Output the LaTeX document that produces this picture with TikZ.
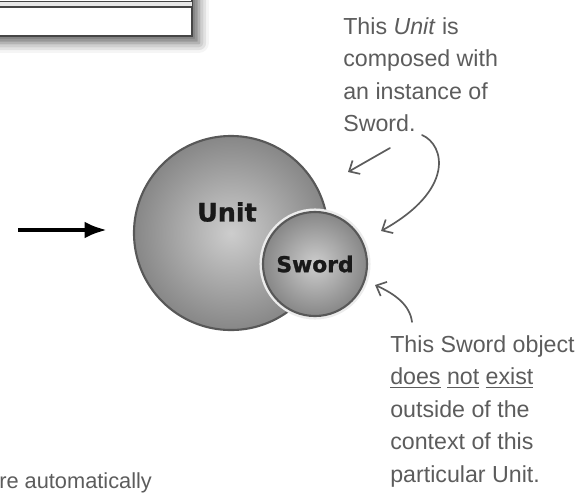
\documentclass[tikz,border=0pt]{standalone}
\usepackage{fontspec}
\usetikzlibrary{arrows.meta,shadows.blur}

\newfontfamily\handfont{Liberation Sans}
\newfontfamily\ballfont{DejaVu Sans}[BoldFeatures={FakeBold=1.2}]

\definecolor{pengray}{RGB}{92,92,92}
\definecolor{ballin}{RGB}{205,205,205}
\definecolor{ballout}{RGB}{135,135,135}
\definecolor{balledge}{RGB}{88,88,88}
\definecolor{boxedge}{RGB}{70,70,70}

\tikzset{
note/.style={anchor=north west, inner sep=0pt, align=left, text=pengray,
  font=\handfont\fontsize{16.5}{23.2}\selectfont},
note arrow/.style={draw=pengray, line width=1.2pt, line cap=round,
  -{Straight Barb[length=6pt,width=11pt]}},
ball/.style={circle, draw=balledge, line width=1.5pt, inner sep=0pt,
  inner color=ballin, outer color=ballout},
ball label/.style={inner sep=0pt, text=black!90,
  font=\ballfont\bfseries\fontsize{18}{18}\selectfont}
}

\begin{document}
\begin{tikzpicture}[x=0.025cm, y=-0.025cm]
\useasboundingbox (0,0) rectangle (588,496);
\clip (0,0) rectangle (588,496);

% -------- Class box (cut off at the top) --------
\node[
draw=boxedge,
line width=1.2pt,
fill=white,
minimum width=5.3cm,
minimum height=2.4cm,
blur shadow={shadow xshift=5pt, shadow yshift=-5pt, shadow blur radius=7pt, shadow opacity=60}
] (unitclass) at (86,-12) {};
\fill[gray!18] (-20,1.5) rectangle (192,7);
\draw[boxedge, line width=1pt] (-20,1.5) -- (192,1.5);
\draw[boxedge, line width=1pt] (-20,7) -- (192,7);

% -------- Arrow into the picture --------
\coordinate (arrowtail) at (18,230);
\coordinate (arrowtip) at (107,230);
\draw[line width=3pt, -{Latex[length=16pt,width=12pt]}] (arrowtail) -- (arrowtip);

% -------- Unit with its Sword --------
\node[ball, minimum size=4.85cm] (unit) at (231,233) {};
\node[ball label] (unitlabel) at (227,212) {Unit};
\node[ball, minimum size=2.6cm,
preaction={draw=white!85!gray, line width=5pt},
font=\ballfont\bfseries\fontsize{15.5}{15.5}\selectfont, text=black!90
] (sword) at (315,264) {Sword};

% -------- Notes --------
\node[note] (composednote) at (343,17)
{This \textit{Unit} is\\composed with\\an instance of\\Sword.};

\node[note] (existnote) at (390,335)
{This Sword object\\\underline{does} \underline{not} \underline{exist}\\outside of the\\context of this\\particular Unit.};

\node[note, anchor=base west, font=\handfont\fontsize{15.5}{20}\selectfont]
(autonote) at (-1,488) {re automatically};

% -------- Note arrows --------
\coordinate (unitpoint) at (348,172);
\coordinate (composedtail) at (390,148);
\draw[note arrow] (composedtail) -- (unitpoint);

\coordinate (curltail) at (422,135);
\coordinate (swordpoint) at (381,231);
\draw[note arrow] (curltail) .. controls (445,145) and (455,190) .. (swordpoint);

\coordinate (existtail) at (412,322);
\coordinate (swordedge) at (375,285);
\draw[note arrow] (existtail) .. controls (410,305) and (395,294) .. (swordedge);

\end{tikzpicture}
\end{document}
